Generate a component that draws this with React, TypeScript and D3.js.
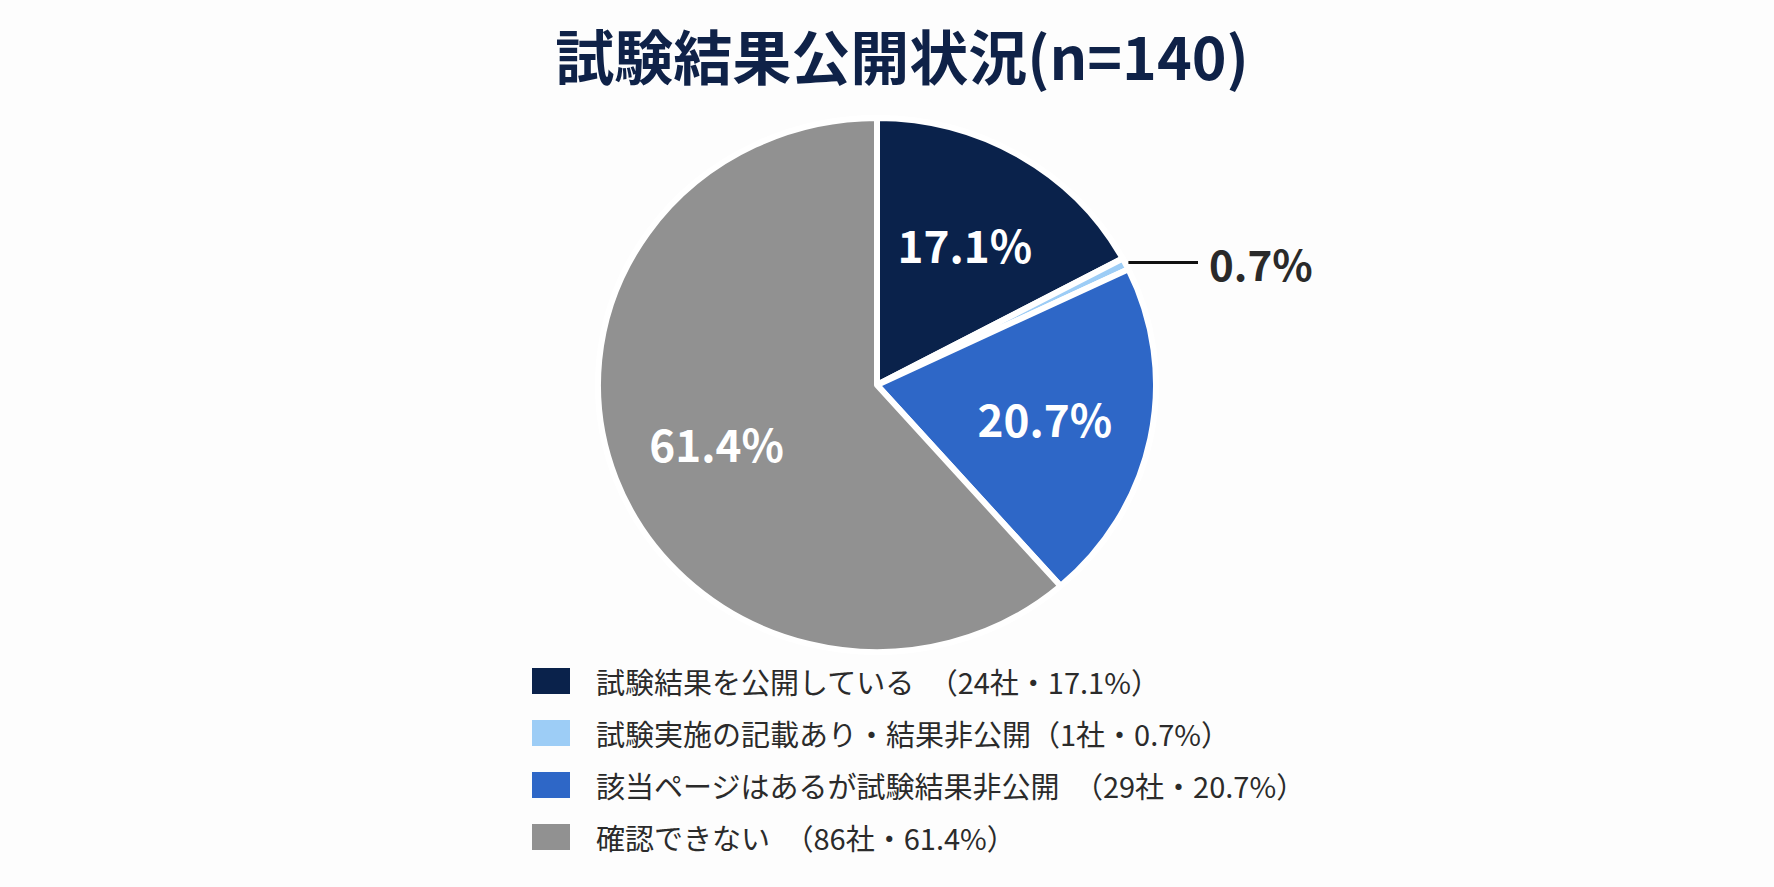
import React, { useEffect, useRef } from 'react';
import * as d3 from 'd3';

// 試験結果公開状況 (n=140)
const categories = [
    '試験結果を公開している',
    '試験実施の記載あり・結果非公開',
    '該当ページはあるが試験結果非公開',
    '確認できない',
];
const counts = [24, 1, 29, 86];
const percents = [17.1, 0.7, 20.7, 61.4];
const legendGaps = ['　', '', '　', '　'];
const colors = ['#0a224b', '#9dcdf6', '#2e67c7', '#919191'];
const insideLabel = [true, false, true, true];

const W = 1774;
const H = 887;
const FONT = '"Noto Sans CJK JP", "Noto Sans", sans-serif';

interface Slice {
    name: string;
    count: number;
    pct: number;
    color: string;
    inside: boolean;
}

const App: React.FC = () => {
    const ref = useRef<SVGSVGElement>(null);

    useEffect(() => {
        if (!ref.current) return;
        const svg = d3.select(ref.current);
        svg.selectAll('*').remove();

        const data: Slice[] = categories.map((name, i) => ({
            name,
            count: counts[i],
            pct: percents[i],
            color: colors[i],
            inside: insideLabel[i],
        }));

        svg.append('rect').attr('width', W).attr('height', H).attr('fill', '#fdfdfd');

        // Title
        svg.append('text')
            .attr('x', 902)
            .attr('y', 80)
            .attr('text-anchor', 'middle')
            .style('font-family', FONT)
            .style('font-size', '59px')
            .style('font-weight', 'bold')
            .style('fill', '#0f2248')
            .text('試験結果公開状況(n=140)');

        // Pie (slightly wider than tall, like the reference)
        const cx = 877;
        const cy = 385;
        const R = 267;
        const sx = 1.045;

        const pie = d3.pie<Slice>().value(d => d.count).sort(null);
        const arc = d3.arc<d3.PieArcDatum<Slice>>().innerRadius(0).outerRadius(R);
        const arcs = pie(data);

        const g = svg.append('g').attr('transform', `translate(${cx},${cy}) scale(${sx},1)`);
        g.selectAll('path')
            .data(arcs)
            .enter()
            .append('path')
            .attr('d', arc)
            .attr('fill', d => d.data.color)
            .attr('stroke', '#ffffff')
            .attr('stroke-width', 6)
            .attr('stroke-linejoin', 'round')
            .attr('vector-effect', 'non-scaling-stroke');

        // Labels inside slices
        const labelArc = d3.arc<d3.PieArcDatum<Slice>>().innerRadius(164).outerRadius(164);
        arcs.filter(d => d.data.inside).forEach(d => {
            const [lx, ly] = labelArc.centroid(d);
            svg.append('text')
                .attr('x', cx + lx * sx)
                .attr('y', cy + ly)
                .attr('text-anchor', 'middle')
                .attr('dominant-baseline', 'central')
                .style('font-family', FONT)
                .style('font-size', '44px')
                .style('font-weight', 'bold')
                .style('fill', '#ffffff')
                .text(`${d.data.pct.toFixed(1)}%`);
        });

        // Leader label for the tiny slice
        arcs.filter(d => !d.data.inside).forEach(d => {
            const a = (d.startAngle + d.endAngle) / 2;
            const px = cx + Math.sin(a) * (R + 3) * sx;
            const py = cy - Math.cos(a) * (R + 3);
            svg.append('line')
                .attr('x1', px)
                .attr('y1', py)
                .attr('x2', 1198)
                .attr('y2', py)
                .attr('stroke', '#111111')
                .attr('stroke-width', 3);
            svg.append('text')
                .attr('x', 1209)
                .attr('y', py)
                .attr('dominant-baseline', 'central')
                .style('font-family', FONT)
                .style('font-size', '42px')
                .style('font-weight', 'bold')
                .style('fill', '#2a2a2a')
                .text(`${d.data.pct.toFixed(1)}%`);
        });

        // Legend
        const legendY = d3.scalePoint<number>()
            .domain(data.map((_, i) => i))
            .range([681, 837]);

        const items = svg.selectAll('.legend-item')
            .data(data)
            .enter()
            .append('g')
            .attr('class', 'legend-item')
            .attr('transform', (_d, i) => `translate(532,${legendY(i)})`);

        items.append('rect')
            .attr('x', 0)
            .attr('y', -13)
            .attr('width', 38)
            .attr('height', 26)
            .attr('fill', d => d.color);

        items.append('text')
            .attr('x', 64)
            .attr('y', 0)
            .attr('dominant-baseline', 'central')
            .style('font-family', FONT)
            .style('font-size', '29px')
            .style('fill', '#2b2b2b')
            .text((d, i) => `${d.name}${legendGaps[i]}（${d.count}社・${d.pct.toFixed(1)}%）`);
    }, []);

    return (
        <svg
            ref={ref}
            width={W}
            height={H}
            style={{ position: 'absolute', left: 0, top: 0, display: 'block' }}
        />
    );
};

export default App;
